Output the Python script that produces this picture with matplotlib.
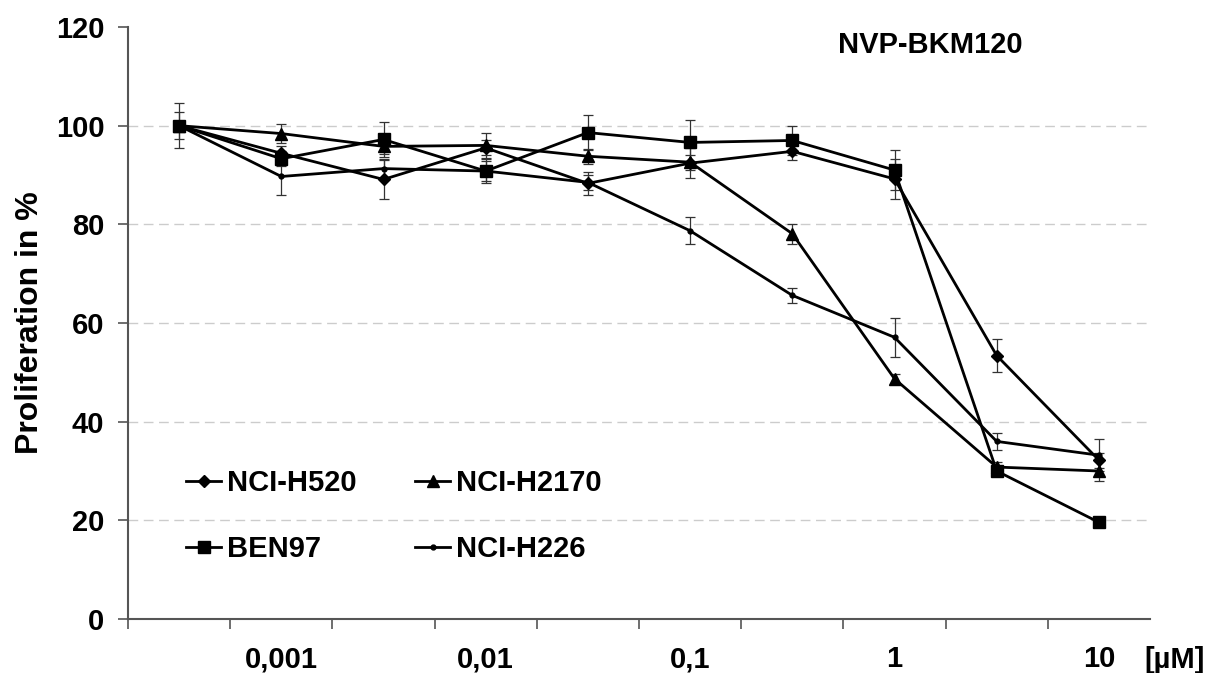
import matplotlib
matplotlib.use('Agg')
import matplotlib.pyplot as plt
import numpy as np

plt.rcParams['font.family'] = ['Liberation Sans', 'DejaVu Sans']
plt.rcParams['font.weight'] = 'bold'

# concentrations (control + 3-fold steps), labels only on every second one
categories = ['0', '0,001', '0,003', '0,01', '0,03', '0,1', '0,3', '1', '3', '10']
shown_labels = ['0,001', '0,01', '0,1', '1', '10']

h520 = [100, 94.4, 89.1, 95.5, 88.3, 92.4, 94.8, 89.2, 53.4, 32.2]
h520_err = [4.6, 1.5, 4.0, 1.5, 2.3, 3.0, 1.7, 4.0, 3.3, 1.5]
h2170 = [100, 98.4, 95.8, 96.0, 93.8, 92.6, 78.1, 48.7, 30.8, 30.0]
h2170_err = [1.0, 2.0, 1.5, 2.5, 1.5, 1.5, 2.0, 1.0, 1.0, 2.0]
ben97 = [100, 93.3, 97.2, 90.8, 98.6, 96.6, 97.0, 91.0, 30.0, 19.6]
ben97_err = [2.7, 1.5, 3.6, 2.0, 3.6, 4.6, 3.0, 4.0, 1.0, 0.5]
h226 = [100, 89.7, 91.3, 90.8, 88.5, 78.7, 65.6, 57.1, 36.0, 33.2]
h226_err = [1.0, 3.8, 2.0, 2.5, 1.5, 2.7, 1.5, 4.0, 1.8, 3.2]

fig = plt.figure(figsize=(12.16, 6.73), dpi=100)
ax = fig.add_axes([128/1216, 1-619/673, 1022/1216, 592/673])

x = np.arange(len(categories))
series = [('NCI-H520', h520, h520_err, 'D', 6),
          ('NCI-H2170', h2170, h2170_err, '^', 8),
          ('BEN97', ben97, ben97_err, 's', 8),
          ('NCI-H226', h226, h226_err, 'o', 3.5)]
handles = {}
for name, vals, err, mk, ms in series:
    ax.errorbar(x, vals, yerr=err, fmt='none', ecolor='#333333', elinewidth=0.9,
                capsize=3.5, capthick=0.9, zorder=2)
    ln, = ax.plot(x, vals, color='black', lw=2, marker=mk, ms=ms, zorder=3)
    handles[name] = ln

for yv in [20, 40, 60, 80, 100]:
    ax.axhline(yv, color='#cccccc', lw=1, ls=(0, (7, 4)), zorder=1)

ax.set_xlim(-0.5, len(categories) - 0.5)
ax.set_ylim(0, 120)
ax.set_yticks(np.arange(0, 121, 20))
ax.set_xticks([1, 3, 5, 7, 9])
ax.set_xticklabels(shown_labels)
ax.set_xticks(np.arange(-0.5, len(categories) - 1, 1), minor=True)
ax.tick_params(axis='x', which='major', length=0, pad=19, labelsize=21)
ax.tick_params(axis='x', which='minor', length=7, width=1.2, color='#555555')
ax.tick_params(axis='y', length=7, width=1.2, color='#555555', pad=10, labelsize=21)

for s in ['top', 'right']:
    ax.spines[s].set_visible(False)
for s in ['left', 'bottom']:
    ax.spines[s].set_color('#555555')
    ax.spines[s].set_linewidth(1.5)

ax.set_ylabel('Proliferation in %', fontsize=23, fontweight='bold', labelpad=8)
ax.text(0.785, 0.97, 'NVP-BKM120', transform=ax.transAxes, ha='center', va='center',
        fontsize=21, fontweight='bold')
fig.text(1175/1216, 1-660/673, '[µM]', ha='center', va='center', fontsize=21,
         fontweight='bold')

order = ['NCI-H520', 'BEN97', 'NCI-H2170', 'NCI-H226']
leg = ax.legend([handles[n] for n in order], order, ncol=2, loc='lower left',
                bbox_to_anchor=(0.057, 0.094), frameon=False, fontsize=21,
                handlelength=1.2, handletextpad=0.2, columnspacing=2.0,
                labelspacing=1.3, borderpad=0, borderaxespad=0)

fig.savefig('out.png', dpi=100)
